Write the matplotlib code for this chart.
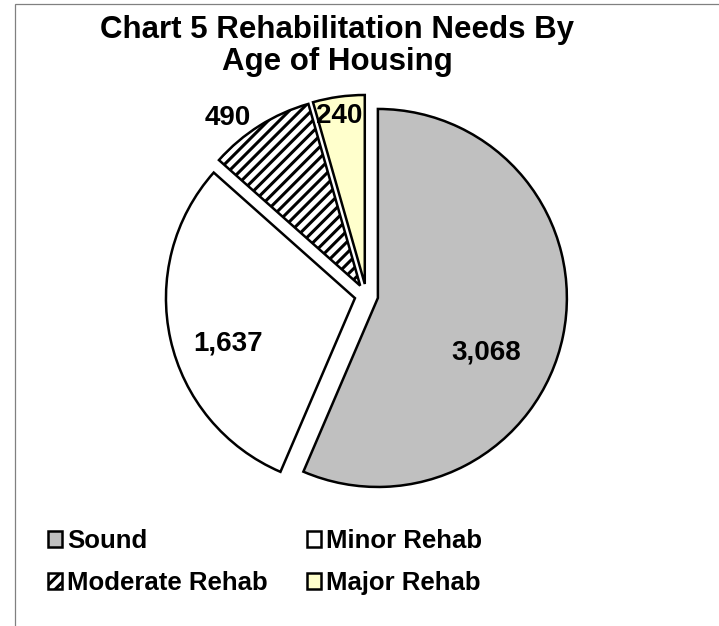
import numpy as np
import matplotlib
matplotlib.use('Agg')
import matplotlib.pyplot as plt
from matplotlib.patches import Rectangle

plt.rcParams['font.family'] = ['Liberation Sans', 'DejaVu Sans']
plt.rcParams['font.weight'] = 'bold'
plt.rcParams['hatch.linewidth'] = 2.2

# 数据
categories = ['Sound', 'Minor Rehab', 'Moderate Rehab', 'Major Rehab']
values = [3068, 1637, 490, 240]
value_labels = ['3,068', '1,637', '490', '240']
colors = ['#c0c0c0', '#ffffff', '#ffffff', '#ffffcc']
hatches = [None, None, '///', None]

W, H = 719, 626
fig = plt.figure(figsize=(W / 100, H / 100), dpi=100)
ax = fig.add_axes([0, 0, 1, 1])

# 饼图中心和半径（像素）
cx, cy, r = 366.4, H - 295.6, 189
explode_frac = 0.062

wedges, _ = ax.pie(values, colors=colors, startangle=90, counterclock=False,
                   center=(cx, cy), radius=r, explode=[explode_frac * r] * 4,
                   wedgeprops=dict(edgecolor='black', linewidth=1.8))
for w, h in zip(wedges, hatches):
    if h:
        w.set_hatch(h)

ax.set_aspect('auto')
ax.set_xlim(0, W)
ax.set_ylim(0, H)
ax.axis('off')

# 数据标签：(距离, 角度偏移)
label_layout = [(0.635, -14.1), (0.71, 6.4), (1.14, 5.8), (0.91, 0.6)]
for w, txt, (dist, shift) in zip(wedges, value_labels, label_layout):
    mid = np.deg2rad((w.theta1 + w.theta2) / 2)
    ox, oy = w.center
    ang = mid + np.deg2rad(shift)
    ax.text(ox + dist * r * np.cos(ang), oy + dist * r * np.sin(ang) - 2, txt,
            ha='center', va='center', fontsize=20, fontweight='bold')

# 标题
fig.text(337 / W, 1 - 46 / H, 'Chart 5 Rehabilitation Needs By\nAge of Housing',
         ha='center', va='center', fontsize=22.5, fontweight='bold',
         multialignment='center', linespacing=1.12)

# 图例（按行排列）
order = [0, 2, 1, 3]
leg = fig.legend([wedges[i] for i in order], [categories[i] for i in order],
                 ncol=2, loc='upper left', bbox_to_anchor=(25 / W, 1 - 506 / H),
                 frameon=False, fontsize=18.5, handlelength=0.55, handleheight=0.55,
                 handletextpad=0.2, columnspacing=1.5, labelspacing=0.7)
for t in leg.get_texts():
    t.set_fontweight('bold')

# 外框
fig.patches.append(Rectangle((15 / W, -0.1), 1.2, 1.1 - 4 / H, transform=fig.transFigure,
                             fill=False, edgecolor='#808080', linewidth=0.9))

fig.savefig('out.png', dpi=100)
